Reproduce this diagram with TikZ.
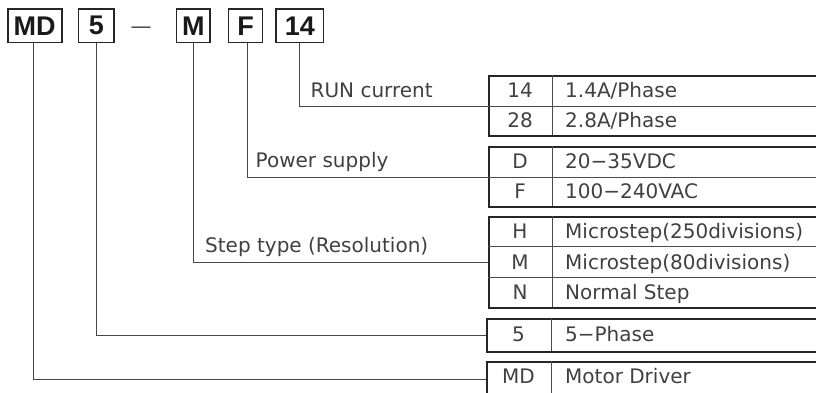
\documentclass[tikz,border=0pt]{standalone}
\usepackage{fontspec}
\setmainfont{DejaVu Sans}
\newfontfamily\boxfont{Liberation Sans}
\begin{document}
\begin{tikzpicture}[x=1pt,y=-1pt,
  codebox/.style={draw=black!85, line width=1.8pt, inner sep=0pt, minimum height=33.5pt,
    font=\boxfont\bfseries\fontsize{27}{27}\selectfont, text=black!90},
  tblframe/.style={draw=black!85, line width=2.2pt, inner sep=0pt, minimum width=360pt, anchor=north west},
  cell/.style={inner sep=0pt, font=\fontsize{20}{21}\selectfont, text=black!75, anchor=base},
  valcell/.style={cell, anchor=base west},
  lbl/.style={cell, anchor=base west},
  conn/.style={draw=black!72, line width=1pt},
  gridline/.style={draw=black!70, line width=0.9pt}]
\clip (0,0) rectangle (816,392);
\useasboundingbox (0,0) rectangle (816,392);
% code boxes
\node[codebox, minimum width=54pt] (bMD) at (34.7,25.8) {MD};
\node[codebox, minimum width=35.5pt] (b5) at (96.3,25.8) {5};
\node[font=\boxfont\fontsize{19}{19}\selectfont, inner sep=0pt, anchor=base, text=black!85] (dash) at (141,32.8) {—};
\node[codebox, minimum width=33.5pt] (bM) at (193.3,25.8) {M};
\node[codebox, minimum width=34pt] (bF) at (245.5,25.8) {F};
\node[codebox, minimum width=47.5pt] (b14) at (299.8,25.8) {14};
% table frames
\node[tblframe, minimum height=60pt] (t1) at (487.5,75) {};
\node[tblframe, minimum height=60pt] (t2) at (487.5,146) {};
\node[tblframe, minimum height=91pt] (t3) at (487.5,216) {};
\node[tblframe, minimum height=33pt] (t4) at (486,318) {};
\node[tblframe, minimum height=34pt] (t5) at (486,361) {};
% inner lines
\draw[gridline] (t1.west) -- (t1.east);
\draw[gridline] (552.5,75) -- (552.5,135);
\draw[gridline] (t2.west) -- (t2.east);
\draw[gridline] (552.5,146) -- (552.5,206);
\draw[gridline] (487.5,246.5) -- (850,246.5);
\draw[gridline] (487.5,277) -- (850,277);
\draw[gridline] (552.5,216) -- (552.5,307);
\draw[gridline] (551.5,318) -- (551.5,351);
\draw[gridline] (551.5,361) -- (551.5,395);
% cells
\node[cell] (k14) at (520,97.5) {14};
\node[valcell] (v14) at (565,97.5) {1.4A/Phase};
\node[cell] (k28) at (520,127.5) {28};
\node[valcell] (v28) at (565,127.5) {2.8A/Phase};
\node[cell] (kD) at (520,168.5) {D};
\node[valcell] (vD) at (565,168.5) {20−35VDC};
\node[cell] (kF) at (520,198.5) {F};
\node[valcell] (vF) at (565,198.5) {100−240VAC};
\node[cell] (kH) at (520,238.7) {H};
\node[valcell] (vH) at (565,238.7) {Microstep(250divisions)};
\node[cell] (kM) at (520,269.2) {M};
\node[valcell] (vM) at (565,269.2) {Microstep(80divisions)};
\node[cell] (kN) at (520,299.5) {N};
\node[valcell] (vN) at (565,299.5) {Normal Step};
\node[cell] (k5) at (518.5,341.5) {5};
\node[valcell] (v5) at (565,341.5) {5−Phase};
\node[cell] (kMD) at (518.5,383.8) {MD};
\node[valcell] (vMD) at (565,383.8) {Motor Driver};
% labels
\node[lbl] (lRun) at (310.5,97) {RUN current};
\node[lbl] (lPow) at (255.5,167) {Power supply};
\node[lbl] (lStep) at (205,252) {Step type (Resolution)};
% connectors
\draw[conn] (b14.south) |- (t1.west);
\draw[conn] ([xshift=1.8pt]bF.south) |- (t2.west);
\draw[conn] (bM.south) |- (t3.west);
\draw[conn] (b5.south) |- (t4.west);
\draw[conn] ([xshift=-1.4pt]bMD.south) |- (t5.west);
\end{tikzpicture}
\end{document}
